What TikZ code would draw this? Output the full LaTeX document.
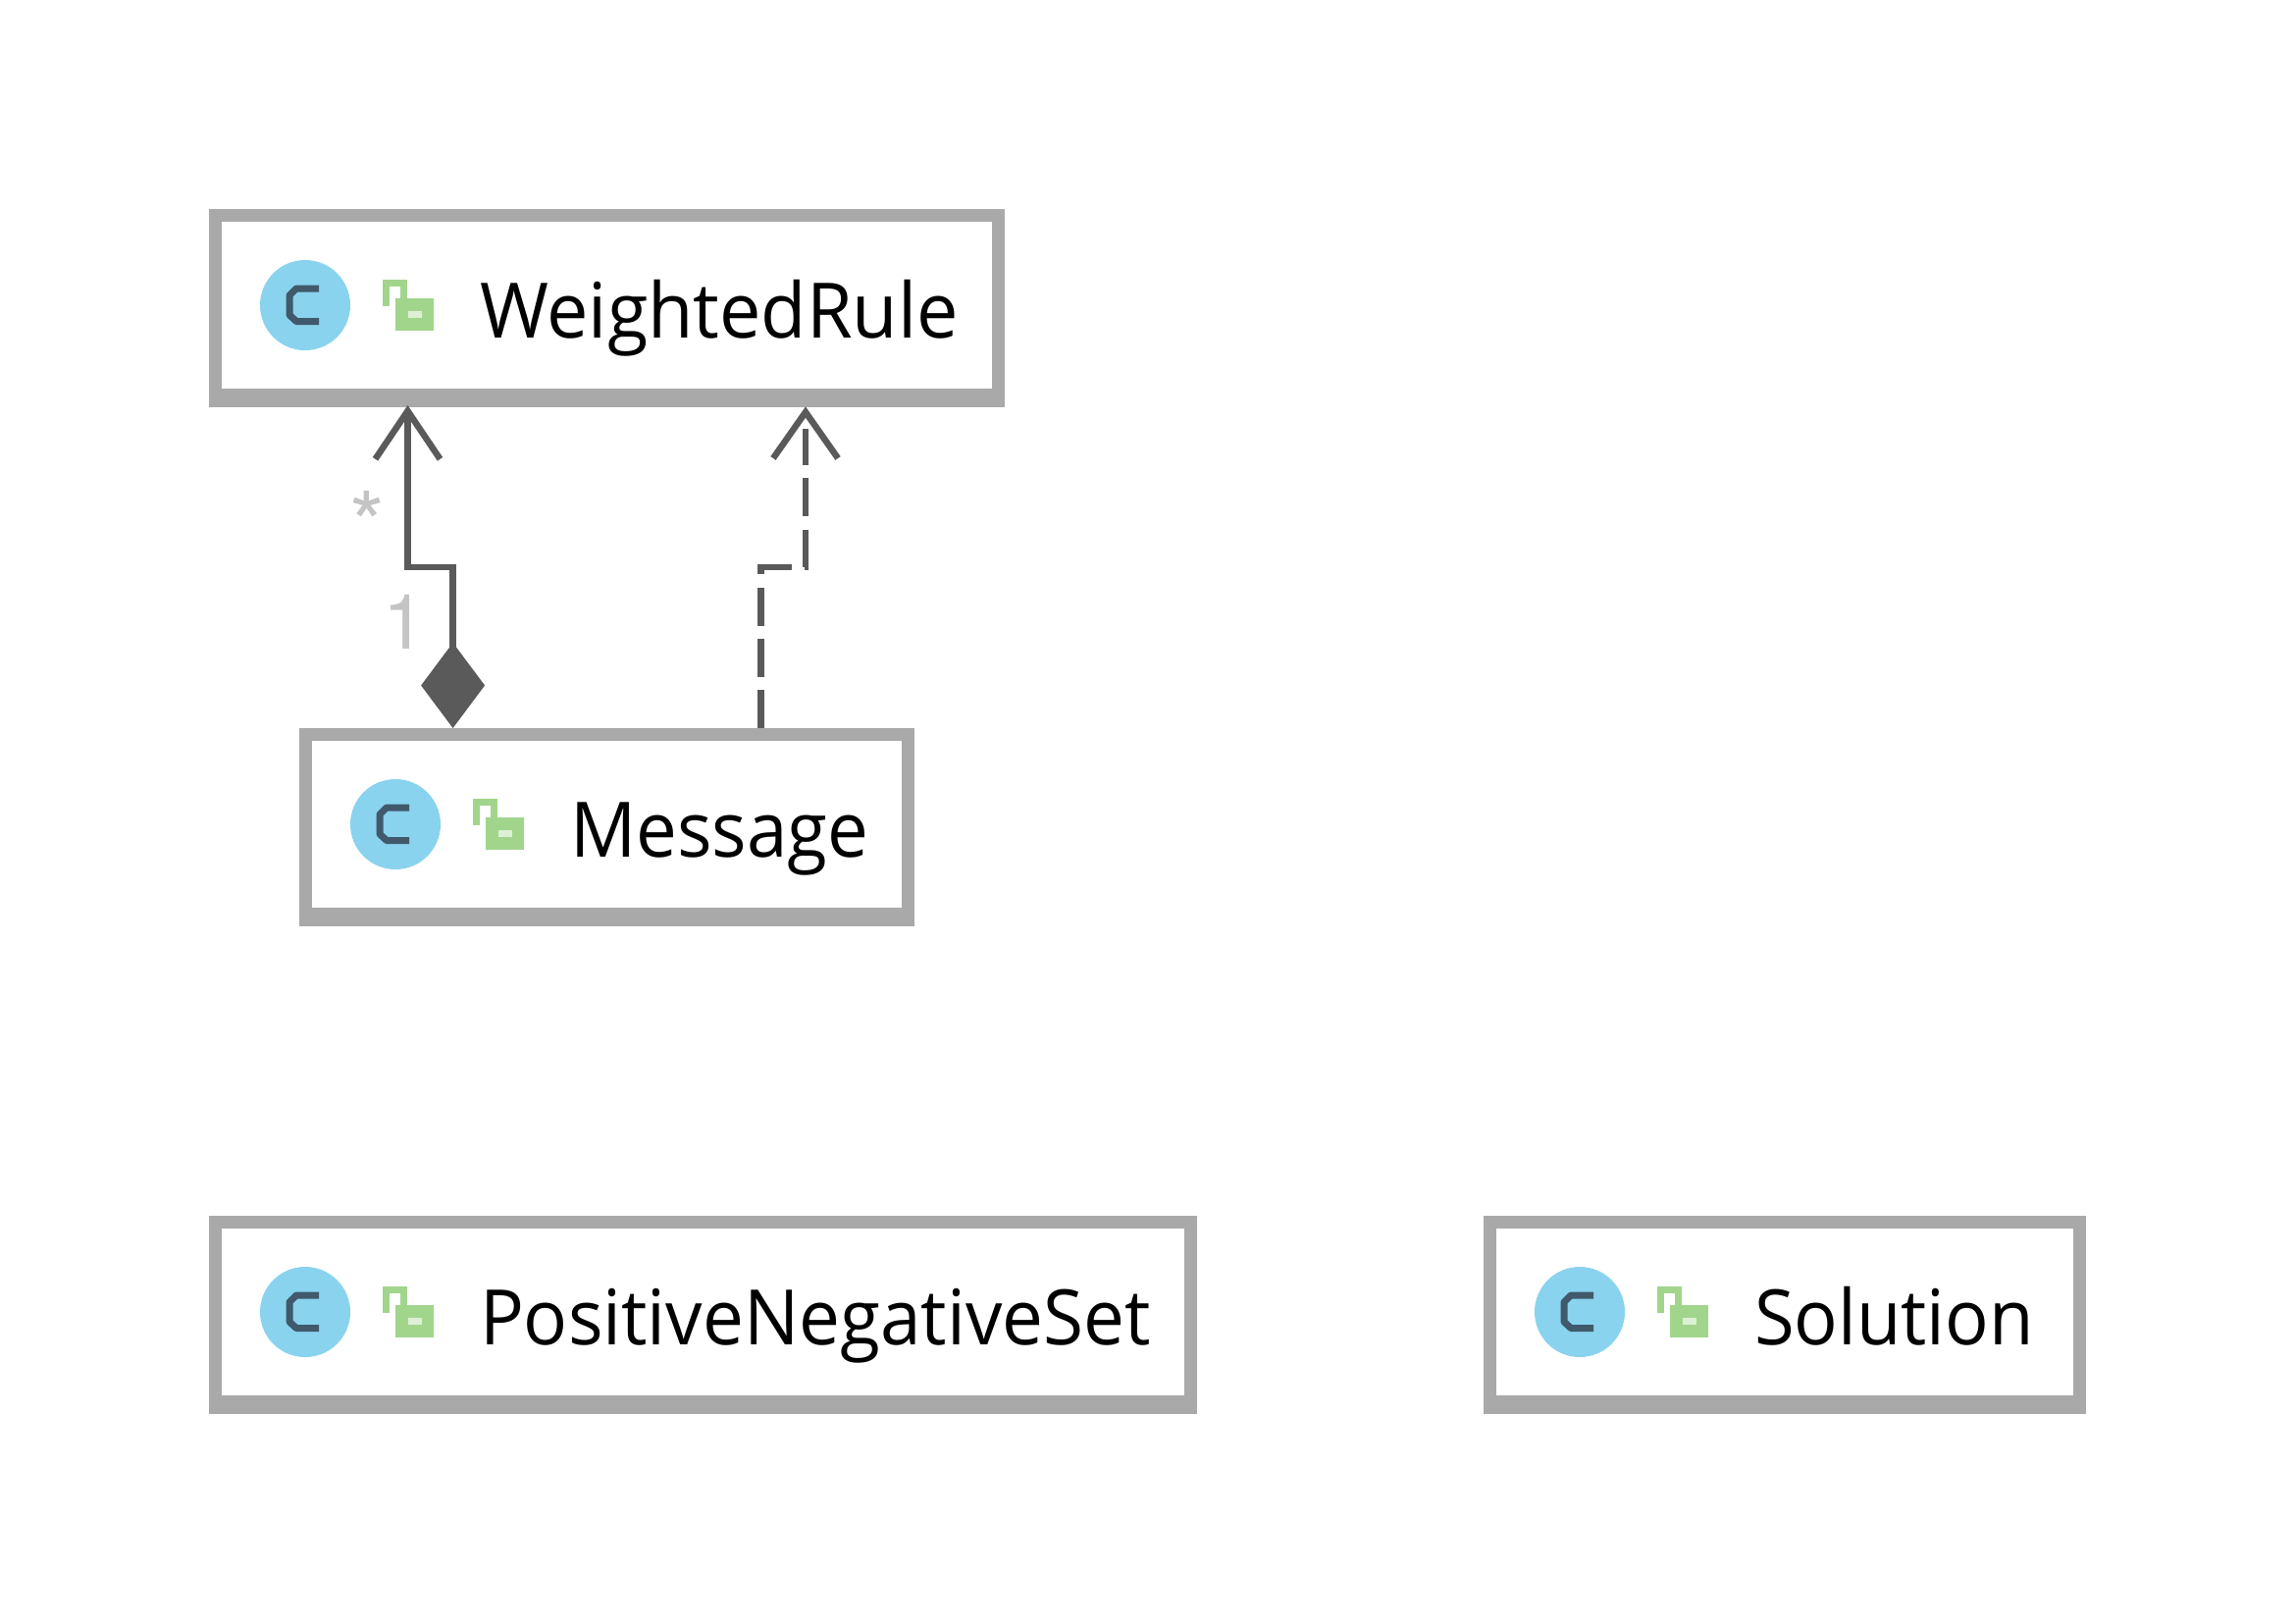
\documentclass[tikz,border=0pt]{standalone}
\usepackage{fontspec}
\usetikzlibrary{arrows.meta}
\newfontfamily\boxfont{Open Sans}[FakeStretch=0.95]
\newfontfamily\multfont{TeX Gyre Heros}
\definecolor{borderc}{HTML}{A9A9A9}
\definecolor{linec}{HTML}{5A5A5A}
\definecolor{multc}{HTML}{C4C4C4}
\definecolor{iconblue}{HTML}{89D3EE}
\definecolor{icondark}{HTML}{40596B}
\definecolor{lockgreen}{HTML}{A1D58C}
\definecolor{lockpale}{HTML}{DDF0D5}
\tikzset{
  classbox/.style={rectangle,fill=borderc,draw=none,inner sep=0pt,outer sep=0pt,anchor=north west,minimum height=202pt},
  classname/.style={anchor=base west,inner sep=0pt,outer sep=0pt,font=\boxfont\fontsize{78}{90}\selectfont,text=black},
  multlabel/.style={anchor=base west,inner sep=0pt,outer sep=0pt,font=\multfont\fontsize{78}{90}\selectfont,text=multc},
  multstarlabel/.style={multlabel,font=\multfont\fontsize{92}{100}\selectfont},
  assoc/.style={draw=linec,line width=6.5pt,line join=miter},
  depline/.style={assoc,dash pattern=on 39pt off 13.2pt},
  openhead/.style={assoc,miter limit=10}
}
\newcommand{\umlclass}[5]{%
  \node[classbox,minimum width=#3pt] (#1) at (#2) {};
  \fill[white] ([shift={(13pt,-13pt)}]#1.north west) rectangle ([shift={(-13pt,19pt)}]#1.south east);
  \begin{scope}[shift={(#1.north west)}]
    \fill[iconblue] (98,98) circle[radius=46pt];
    \draw[icondark,line width=7pt,line join=bevel] (112,81) -- (89,81) -- (82,88) -- (82,108) -- (89,114.5) -- (112,114.5);
    \draw[lockgreen,line width=7pt,line join=miter] (180.5,99) -- (180.5,75.5) -- (198.5,75.5) -- (198.5,95);
    \fill[lockgreen] (190,91) rectangle (229,124);
    \fill[lockpale] (203,104) rectangle (217,111);
    \node[classname] (#1-name) at (276,131) {\scalebox{#5}[1]{#4}};
  \end{scope}
}
\begin{document}
\begin{tikzpicture}[x=1pt,y=-1pt]
\useasboundingbox (0,0) rectangle (2339,1654);
\fill[white] (0,0) rectangle (2339,1654);

\umlclass{wr}{213,213}{811}{WeightedRule}{1.02}
\umlclass{msg}{305,742}{627}{Message}{1.005}
\umlclass{pns}{213,1239}{1007}{PositiveNegativeSet}{1.008}
\umlclass{sol}{1512,1239}{614}{Solution}{1.0}

% composition Message -> WeightedRule
\draw[assoc,{Diamond[length=87pt,width=65pt,line width=0pt,fill=linec]}-{Straight Barb[length=49pt,width=66pt]}]
  ([xshift=156.6pt]msg.north west) -- ++(0,-164) -| ([xshift=202.5pt,yshift=2pt]wr.south west);

% dependency Message -> WeightedRule
\coordinate (deptip) at ([xshift=608pt,yshift=-5pt]wr.south west);
\draw[depline,shorten >=17pt]
  ([xshift=470.6pt]msg.north west) -- ++(0,-164) -| (deptip);
\draw[openhead] ([shift={(-33pt,-47pt)}]deptip) -- (deptip) -- ([shift={(33pt,-47pt)}]deptip);

% multiplicities
\node[multstarlabel] (multstar) at (356,567) {*};
\node[multlabel] (multone) at (390,661) {1};
\end{tikzpicture}
\end{document}
